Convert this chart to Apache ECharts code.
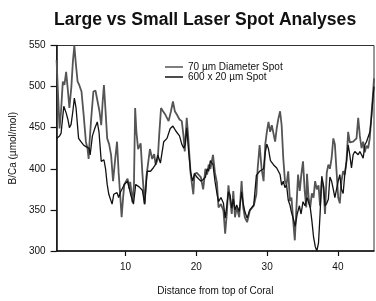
<!DOCTYPE html>
<html>
<head>
<meta charset="utf-8">
<script src="https://cdn.jsdelivr.net/npm/echarts@6/dist/echarts.min.js"></script>
<style>
html,body{margin:0;padding:0;background:#fff;}
#chart{width:376px;height:301px;}
</style>
</head>
<body>
<div id="chart"></div>
<script>
// series names (legend)
const seriesNames = ['70 µm Diameter Spot', '600 x 20 µm Spot'];
// tick labels
const xTicks = [10, 20, 30, 40];
const yTicks = [300, 350, 400, 450, 500, 550];

// 70 um spot: distance, B/Ca
const distSmall = [0.25,0.46,0.67,0.88,1.13,1.36,1.60,1.85,2.06,2.34,2.55,2.76,2.97,3.22,3.45,3.77,4.08,4.39,4.61,4.78,4.85,5.13,5.45,5.75,6.00,6.31,6.56,6.75,6.94,7.17,7.40,7.67,7.95,8.23,8.51,8.79,9.02,9.30,9.44,9.65,9.82,10.07,10.28,10.52,10.65,10.84,10.97,11.18,11.35,11.53,11.77,12.13,12.37,12.69,12.93,13.44,13.76,14.04,14.25,14.55,14.74,15.01,15.29,15.61,16.08,16.41,16.69,16.96,17.24,17.62,17.94,18.18,18.36,18.64,18.84,19.19,19.57,19.74,20.07,20.35,20.63,20.96,21.28,21.52,21.74,21.98,22.35,22.63,22.91,23.13,23.47,23.83,24.07,24.30,24.53,24.76,25.00,25.22,25.46,25.70,26.06,26.39,26.62,26.85,27.17,27.55,27.83,28.11,28.48,28.66,28.94,29.22,29.50,29.74,29.96,30.19,30.43,30.66,30.89,31.13,31.35,31.59,31.83,32.05,32.28,32.52,32.74,32.98,33.22,33.44,33.68,33.91,34.14,34.37,34.61,34.83,35.07,35.31,35.53,35.63,35.86,36.09,36.32,36.56,36.78,37.02,37.26,37.48,37.72,37.96,38.18,38.42,38.65,38.87,39.11,39.35,39.57,39.81,40.04,40.27,40.50,40.74,40.97,41.21,41.45,41.68,41.92,42.15,42.39,42.63,42.87,43.10,43.34,43.57,43.80,44.04,44.27,44.50,44.74,44.92,45.10];
const bcaSmall = [532,490,449,470,506,502,518,495,474,500,530,550,528,506,502,494,465,433,425,412,425,460,494,495,494,470,453,480,502,470,437,430,417,385,410,433,395,360,341,365,381,385,388,376,384,370,359,380,474,445,424,431,395,357,390,424,412,418,405,412,440,474,470,466,458,470,482,470,466,460,458,440,421,462,440,394,369,394,395,397,390,375,400,393,405,400,417,395,383,353,357,349,321,345,380,380,345,373,341,353,341,385,353,341,335,349,351,355,369,400,429,400,385,430,445,457,445,453,451,433,449,461,470,453,413,385,381,397,361,365,337,313,353,393,373,393,409,373,353,394,365,353,370,365,385,375,380,355,385,378,345,395,405,400,413,437,430,397,365,358,385,397,393,409,445,432,432,433,432,437,462,440,425,433,420,428,425,437,466,486,510];

// 600 x 20 um spot: distance, B/Ca
const distLarge = [0.25,0.67,0.88,1.27,1.60,1.85,2.06,2.30,2.55,2.76,3.00,3.36,3.69,4.05,4.39,4.85,4.99,5.31,5.68,6.00,6.24,6.56,6.94,7.17,7.40,7.63,8.09,8.33,8.79,9.02,9.30,9.82,10.28,10.74,11.11,11.43,11.91,12.37,12.69,13.06,13.52,13.90,14.22,14.55,14.92,15.39,15.85,16.31,16.69,17.10,17.62,17.94,18.22,18.43,18.64,18.92,19.19,19.47,19.74,20.07,20.35,20.63,20.96,21.28,21.52,21.74,21.98,22.35,22.63,22.91,23.13,23.47,23.83,24.07,24.30,24.53,24.76,25.00,25.22,25.46,25.70,26.06,26.39,26.62,26.85,27.17,27.55,27.83,28.11,28.48,28.66,28.94,29.22,29.50,29.74,29.96,30.19,30.47,30.89,31.35,31.59,31.83,32.05,32.28,32.52,32.74,32.98,33.22,33.44,33.68,33.96,34.25,34.56,34.79,35.07,35.35,35.63,36.09,36.32,36.56,36.81,37.02,37.26,37.48,37.72,37.96,38.18,38.42,38.65,38.87,39.11,39.35,39.57,39.81,40.04,40.27,40.50,40.74,40.97,41.21,41.45,41.68,41.92,42.15,42.39,42.63,42.87,43.10,43.34,43.57,43.80,44.04,44.32,44.53,44.74,44.92,45.10];
const bcaLarge = [437,440,443,476,468,460,450,454,470,486,474,437,433,429,427,425,417,440,450,457,445,409,411,400,381,369,357,369,371,365,372,381,385,368,357,381,378,374,357,397,397,401,405,417,407,433,437,449,452,446,440,430,425,430,450,420,396,385,394,390,392,385,387,390,400,397,410,405,385,370,360,365,358,340,355,372,368,352,363,350,356,348,372,358,348,340,350,350,356,392,392,397,398,400,420,430,424,410,405,401,400,393,380,385,377,381,362,356,347,340,330,345,355,345,360,355,365,353,337,317,305,300,310,345,391,380,355,358,363,390,385,375,365,363,385,393,375,370,393,409,429,417,401,417,421,421,417,421,417,413,429,433,433,445,462,483,500];

function pairs(xs, ys) {
	return xs.map(function (x, i) { return [x, ys[i]]; });
}

const chart = echarts.init(document.getElementById('chart'));
const axisFont = {fontFamily: 'Liberation Sans', fontSize: 10, color: '#111'};

chart.setOption({
	animation: false,
	backgroundColor: '#fff',
	title: {
		text: 'Large vs Small Laser Spot Analyses',
		left: 49,
		top: 6,
		textStyle: {fontFamily: 'Liberation Sans', fontSize: 17.6, fontWeight: 'bold', color: '#111'}
	},
	legend: {
		orient: 'vertical',
		left: 160,
		top: 57,
		icon: 'rect',
		itemWidth: 18,
		itemHeight: 1.5,
		itemGap: 0,
		textStyle: Object.assign({lineHeight: 10}, axisFont),
		data: seriesNames
	},
	grid: {
		left: 52, right: 2, top: 45.5, bottom: 48.5,
		show: true, borderColor: '#333', borderWidth: 1
	},
	xAxis: {
		type: 'value',
		min: 0.25,
		max: 45.1,
		name: 'Distance from top of Coral',
		nameLocation: 'middle',
		nameGap: 35,
		nameTextStyle: axisFont,
		splitLine: {show: false},
		axisLine: {lineStyle: {color: '#111', width: 1.5}},
		axisTick: {customValues: xTicks, length: 5, lineStyle: {color: '#111', width: 1.2}},
		axisLabel: Object.assign({customValues: xTicks, margin: 11}, axisFont)
	},
	yAxis: {
		type: 'value',
		min: 300,
		max: 550,
		interval: 50,
		name: 'B/Ca (µmol/mol)',
		nameLocation: 'middle',
		nameGap: 38,
		nameTextStyle: axisFont,
		splitLine: {show: false},
		axisLine: {show: true, lineStyle: {color: '#111', width: 1.5}},
		axisTick: {show: true, length: 6, lineStyle: {color: '#111', width: 1.2}},
		axisLabel: Object.assign({margin: 11}, axisFont)
	},
	series: [
		{
			name: seriesNames[0],
			type: 'line',
			symbol: 'none',
			data: pairs(distSmall, bcaSmall),
			lineStyle: {color: '#555', width: 1.8},
			itemStyle: {color: '#555'}
		},
		{
			name: seriesNames[1],
			type: 'line',
			symbol: 'none',
			data: pairs(distLarge, bcaLarge),
			lineStyle: {color: '#111', width: 1.3},
			itemStyle: {color: '#111'}
		}
	]
});
</script>
</body>
</html>
